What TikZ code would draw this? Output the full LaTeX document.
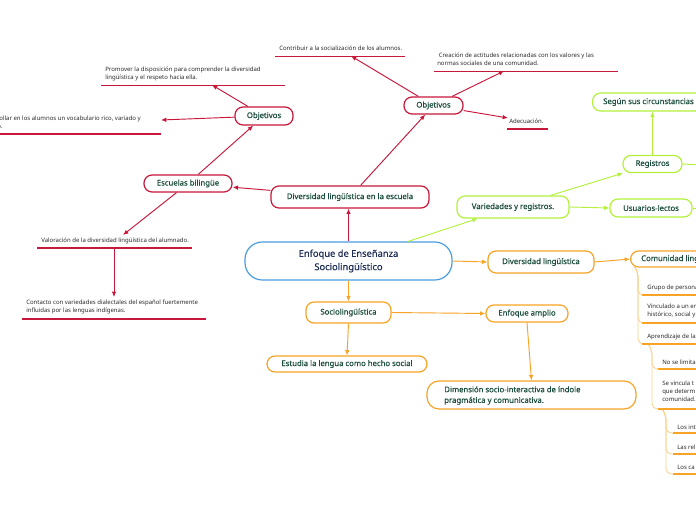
\documentclass[tikz,border=0pt]{standalone}
\usepackage{fontspec}
\setmainfont{Noto Sans}
\newfontfamily\nodefont[FakeBold=0.5]{Noto Sans}
\usetikzlibrary{arrows.meta,calc}
\definecolor{redc}{HTML}{C8173A}
\definecolor{greenc}{HTML}{B4F03C}
\definecolor{orangec}{HTML}{F7A325}
\definecolor{bluec}{HTML}{4A9EE0}
\definecolor{treel}{HTML}{FAD28A}
\definecolor{nodetext}{HTML}{1B4D3E}
\definecolor{centertext}{HTML}{1E2E57}
\definecolor{smalltext}{HTML}{2A2A2A}
\tikzset{
  lbl/.style={font=\nodefont\fontsize{5.8}{8}\selectfont, text=nodetext},
  box/.style n args={3}{draw=#3, line width=0.9pt, fill=white, rounded corners=6pt,
    minimum width=#1*0.75pt, minimum height=#2*0.75pt, inner sep=0pt, lbl},
  sm/.style={font=\fontsize{4.5}{6}\selectfont, text=smalltext, align=left, inner sep=0pt, anchor=west},
  ul/.style={line width=1.1pt},
  arr/.style={line width=0.7pt, -{Latex[length=4pt,width=3.4pt]}},
  tree/.style={draw=treel, line width=0.6pt, rounded corners=4pt},
}
\begin{document}
\begin{tikzpicture}[x=0.75pt,y=-0.75pt]
\useasboundingbox (0,0) rectangle (696,520);
\clip (0,0) rectangle (696,520);
\fill[white] (0,0) rectangle (696,520);

% ---------- central ----------
\node[box={207}{38}{bluec}, rounded corners=13pt, font=\nodefont\fontsize{7}{10}\selectfont,
  text=centertext, align=center] (central) at (348.5,261) {Enfoque de Enseñanza\\Sociolingüístico};

% ---------- red branch ----------
\node[box={158}{22}{redc}] (divesc) at (350,197) {Diversidad lingüística en la escuela};
\node[box={88}{17}{redc}] (escb) at (188,183.5) {Escuelas bilingüe};
\node[box={58}{18}{redc}] (objL) at (264,116) {Objetivos};
\node[box={59}{17}{redc}] (objR) at (433.5,105.5) {Objetivos};

\node[sm] (prom) at (105,74) {Promover la disposición para comprender la diversidad\\lingüística y el respeto hacia ella.};
\draw[redc,ul] (101,85.7) -- (285,85.7);
\node[sm, anchor=east] (desa) at (141,123) {Desarrollar en los alumnos un vocabulario rico, variado y\\preciso.};
\draw[redc,ul] (-5,134) -- (161,134);
\node[sm] (contr) at (279,48.7) {Contribuir a la socialización de los alumnos.};
\draw[redc,ul] (275,56.7) -- (405,56.7);
\node[sm] (crea) at (437,59.5) {\ Creación de actitudes relacionadas con los valores y las\\normas sociales de una comunidad.};
\draw[redc,ul] (434,71.7) -- (618,71.7);
\node[sm] (adec) at (509,121.7) {Adecuación.};
\draw[redc,ul] (507,129) -- (548,129);
\node[sm] (valo) at (41,240.7) {Valoración de la diversidad lingüística del alumnado.};
\draw[redc,ul] (37,248) -- (192,248);
\node[sm] (cont) at (26,307.2) {Contacto con variedades dialectales del español fuertemente\\influidas por las lenguas indígenas.};
\draw[redc,ul] (22,319) -- (206,319);

\coordinate (promT) at (212,85);
\coordinate (desaT) at (161,120);
\coordinate (contrT) at (351,56);
\coordinate (creaT) at (504,71);
\coordinate (adecT) at (508,118);
\coordinate (valoT) at (123,235);
\coordinate (valoB) at (114,248.5);
\coordinate (contT) at (114,297);

\draw[arr,redc] (central.north) -- (central.north |- divesc.south);
\draw[arr,redc] (divesc) -- (escb);
\draw[arr,redc] (divesc) -- (objR);
\draw[arr,redc] (escb) -- (objL);
\draw[arr,redc] (objL) -- (promT);
\draw[arr,redc] (objL) -- (desaT);
\draw[arr,redc] (objR) -- (contrT);
\draw[arr,redc] (objR) -- (creaT);
\draw[arr,redc] (objR) -- (adecT);
\draw[arr,redc] (escb) -- (valoT);
\draw[arr,redc] (valoB) -- (contT);

% ---------- green branch ----------
\node[box={112}{22}{greenc}] (vari) at (513,207) {Variedades y registros.};
\node[box={82}{18}{greenc}] (usu) at (651,208) {Usuarios-lectos};
\node[box={59}{17}{greenc}] (reg) at (652.5,164) {Registros};
\node[box={140}{18}{greenc}, anchor=west] (segun) at (592,102) {};
\node[lbl, anchor=west, inner sep=0pt] (segunt) at (603,102) {Según sus circunstancias};
\coordinate (regout) at (700,165);
\coordinate (usuout) at (700,208);

\draw[arr,greenc] (central) -- (vari);
\draw[arr,greenc] (vari) -- (reg);
\draw[arr,greenc] (vari.east) -- (usu.west);
\draw[arr,greenc] (reg.north) -- (reg.north |- segun.south);
\draw[greenc,line width=0.7pt] (reg.east) -- (regout);
\draw[greenc,line width=0.7pt] (usu.east) -- (usuout);

% ---------- orange branch ----------
\node[box={106}{22}{orangec}] (divl) at (541,262) {Diversidad lingüística};
\node[box={120}{16}{orangec}, anchor=west] (comun) at (630,259) {};
\node[lbl, anchor=west, inner sep=0pt] (comunt) at (641,259) {Comunidad lingüística};
\node[box={85}{21}{orangec}] (socio) at (348.5,312.5) {Sociolingüística};
\node[box={82}{17}{orangec}] (enfa) at (527,313.5) {Enfoque amplio};
\node[box={160}{16}{orangec}] (estu) at (347,364) {Estudia la lengua como hecho social};
\node[box={209}{28}{orangec}, rounded corners=9pt] (dimen) at (531.5,395) {};
\node[lbl, anchor=west, align=left, inner sep=0pt] (dimt) at (444,395.5) {Dimensión socio-interactiva de índole\\pragmática y comunicativa.};

\draw[arr,orangec] (central.east) -- (divl.west);
\draw[arr,orangec] (divl.east) -- (comun.west);
\draw[arr,orangec] (central.south) -- (socio.north);
\draw[arr,orangec] (socio.east) -- (enfa.west);
\draw[arr,orangec] (socio.south) -- (estu.north);
\draw[arr,orangec] (enfa.south) -- (dimen.north);

% ---------- tree under Comunidad lingüística ----------
\coordinate (cRoot) at (634,266);
\coordinate (aRoot) at (648,344);
\coordinate (sRoot) at (662,409);

\node[sm] (t1) at (647,288) {Grupo de persona};
\node[sm] (t2) at (647,311) {Vinculado a un en\\histórico, social y};
\node[sm] (t3) at (647,337) {Aprendizaje de la};
\node[sm] (t4) at (662,362.5) {No se limita};
\node[sm] (t5) at (662,391) {Se vincula t\\que determ\\comunidad.};
\node[sm] (t6) at (677,427) {Los int};
\node[sm] (t7) at (677,447) {Las rel};
\node[sm] (t8) at (677,467) {Los ca};

\coordinate (u1) at (642,295);
\coordinate (u2) at (642,323);
\coordinate (u3) at (642,344);
\coordinate (u4) at (658,369);
\coordinate (u5) at (658,409);
\coordinate (u6) at (673,433);
\coordinate (u7) at (673,454);
\coordinate (u8) at (673,474);

\foreach \u in {u1,u2,u3} {
  \draw[tree] (cRoot) -- ++(4,6) |- (\u);
}
\foreach \u in {u4,u5} {
  \draw[tree] (aRoot) -- ++(4,6) |- (\u);
}
\foreach \u in {u6,u7,u8} {
  \draw[tree] (sRoot) -- ++(4,6) |- (\u);
}
\foreach \u in {u1,u2,u3,u4,u5,u6,u7,u8} {
  \draw[orangec,ul] (\u) -- ++(60,0);
}
\end{tikzpicture}
\end{document}
